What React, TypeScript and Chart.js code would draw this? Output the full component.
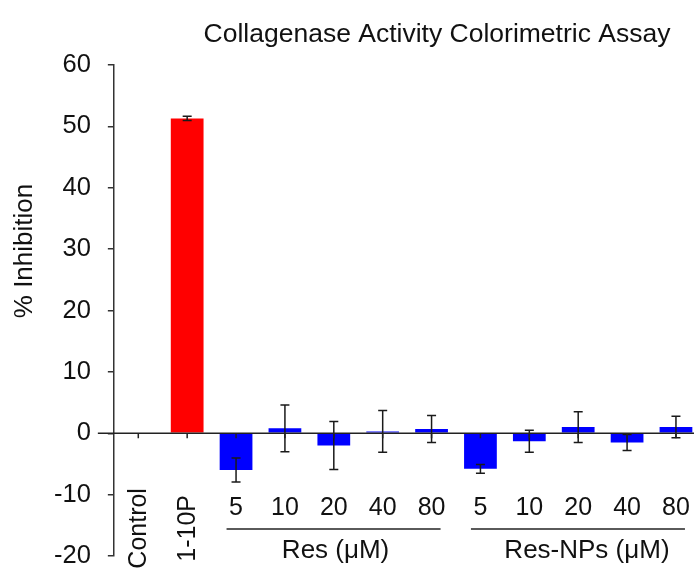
import React, { useEffect, useRef } from 'react';
import { Chart, registerables } from 'chart.js';

Chart.register(...registerables);

const categories = ['Control', '1-10P', '5', '10', '20', '40', '80', '5', '10', '20', '40', '80'];
const rotatedLabels = ['Control', '1-10P'];
const values: (number | null)[] = [null, 51.3, -6.0, 0.8, -2.0, 0.3, 0.7, -5.8, -1.3, 1.0, -1.5, 1.0];
const errors: (number | null)[] = [null, 0.35, 1.95, 3.8, 3.9, 3.4, 2.2, 0.7, 1.8, 2.5, 1.3, 1.75];
const barColors = ['#0000ff', '#ff0000', '#0000ff', '#0000ff', '#0000ff', '#0000ff', '#0000ff', '#0000ff', '#0000ff', '#0000ff', '#0000ff', '#0000ff'];
const groupLabels = ['Res (μM)', 'Res-NPs (μM)'];
const groupFrom = [2, 7];
const groupTo = [6, 11];
const groupLabelShift = [2, 9];
const titleText = 'Collagenase Activity Colorimetric Assay';
const yAxisLabel = '% Inhibition';
const yMin = -20;
const yMax = 60;
const yStep = 10;

const FONT = '"Liberation Sans", Arial, sans-serif';

const overlayPlugin = {
  id: 'overlay',
  afterDatasetsDraw(chart: any) {
    const ctx = chart.ctx;
    const x = chart.scales.x;
    const y = chart.scales.y;
    const y0 = y.getPixelForValue(0);
    ctx.save();

    // error bars
    ctx.strokeStyle = '#1a1a1a';
    ctx.lineWidth = 1.5;
    values.forEach((v, i) => {
      const e = errors[i];
      if (v == null || e == null) return;
      const cx = x.getPixelForValue(i);
      const top = y.getPixelForValue(v + e);
      const bot = y.getPixelForValue(v - e);
      ctx.beginPath();
      ctx.moveTo(cx, top);
      ctx.lineTo(cx, bot);
      ctx.moveTo(cx - 4.5, top);
      ctx.lineTo(cx + 4.5, top);
      ctx.moveTo(cx - 4.5, bot);
      ctx.lineTo(cx + 4.5, bot);
      ctx.stroke();
    });

    // zero line
    ctx.strokeStyle = '#222';
    ctx.lineWidth = 1.5;
    ctx.beginPath();
    ctx.moveTo(chart.chartArea.left - 16, y0);
    ctx.lineTo(chart.width, y0);
    ctx.stroke();

    // category ticks
    ctx.beginPath();
    categories.forEach((_, i) => {
      const cx = x.getPixelForValue(i);
      ctx.moveTo(cx, y0);
      ctx.lineTo(cx, y0 + 5);
    });
    ctx.stroke();

    // category labels
    ctx.fillStyle = '#111';
    ctx.font = `25px ${FONT}`;
    categories.forEach((c, i) => {
      const cx = x.getPixelForValue(i);
      if (rotatedLabels.includes(c) && i < 2) {
        ctx.save();
        ctx.translate(cx + 1, y.getPixelForValue(-15.5));
        ctx.rotate(-Math.PI / 2);
        ctx.textAlign = 'center';
        ctx.textBaseline = 'middle';
        ctx.fillText(c, 0, 0);
        ctx.restore();
      } else {
        ctx.textAlign = 'center';
        ctx.textBaseline = 'alphabetic';
        ctx.fillText(c, cx, y.getPixelForValue(-13.4));
      }
    });

    // group lines and labels
    groupLabels.forEach((g, k) => {
      const xa = x.getPixelForValue(groupFrom[k]) - 9.5;
      const xb = x.getPixelForValue(groupTo[k]) + 9;
      const ly = y.getPixelForValue(-15.6);
      ctx.strokeStyle = '#5a5a5a';
      ctx.lineWidth = 2;
      ctx.beginPath();
      ctx.moveTo(xa, ly);
      ctx.lineTo(xb, ly);
      ctx.stroke();
      ctx.font = `26px ${FONT}`;
      ctx.textAlign = 'center';
      ctx.textBaseline = 'alphabetic';
      ctx.fillStyle = '#111';
      ctx.fillText(g, (xa + xb) / 2 + groupLabelShift[k], y.getPixelForValue(-20.3));
    });

    // title
    ctx.font = `26.5px ${FONT}`;
    ctx.textAlign = 'center';
    ctx.textBaseline = 'alphabetic';
    ctx.fillStyle = '#111';
    ctx.fillText(titleText, 437, 42);

    // y axis label
    ctx.save();
    ctx.translate(25, 251);
    ctx.rotate(-Math.PI / 2);
    ctx.textAlign = 'center';
    ctx.textBaseline = 'middle';
    ctx.font = `26px ${FONT}`;
    ctx.fillText(yAxisLabel, 0, 0);
    ctx.restore();

    ctx.restore();
  },
};

export default function App() {
  const ref = useRef<HTMLCanvasElement | null>(null);
  useEffect(() => {
    if (!ref.current) return;
    const chart = new Chart(ref.current, {
      type: 'bar',
      data: {
        labels: categories,
        datasets: [
          {
            data: values as any,
            backgroundColor: barColors,
            borderWidth: 0,
            barPercentage: 0.67,
            categoryPercentage: 1,
          },
        ],
      },
      options: {
        responsive: false,
        animation: false,
        layout: { padding: { left: 0, right: 1.6, top: 65, bottom: 12 } },
        plugins: {
          legend: { display: false },
          title: { display: false },
          tooltip: { enabled: false },
        },
        scales: {
          x: {
            display: false,
          },
          y: {
            min: yMin,
            max: yMax,
            ticks: {
              stepSize: yStep,
              color: '#111',
              font: { size: 25.5, family: FONT },
              padding: 17,
            },
            grid: {
              drawOnChartArea: false,
              drawTicks: true,
              tickLength: 6,
              color: '#333',
              lineWidth: 1.5,
            },
            border: { display: true, color: '#333', width: 1.5 },
            afterFit(scale: any) {
              scale.width = 113.85;
              scale.paddingTop = 0;
              scale.paddingBottom = 0;
            },
          },
        },
      },
      plugins: [overlayPlugin],
    });
    return () => chart.destroy();
  }, []);
  return (
    <div style={{ position: 'fixed', left: 0, top: 0, width: 694, height: 568, overflow: 'hidden', background: '#fff' }}>
      <canvas ref={ref} width={702} height={568} style={{ display: 'block' }} />
    </div>
  );
}
